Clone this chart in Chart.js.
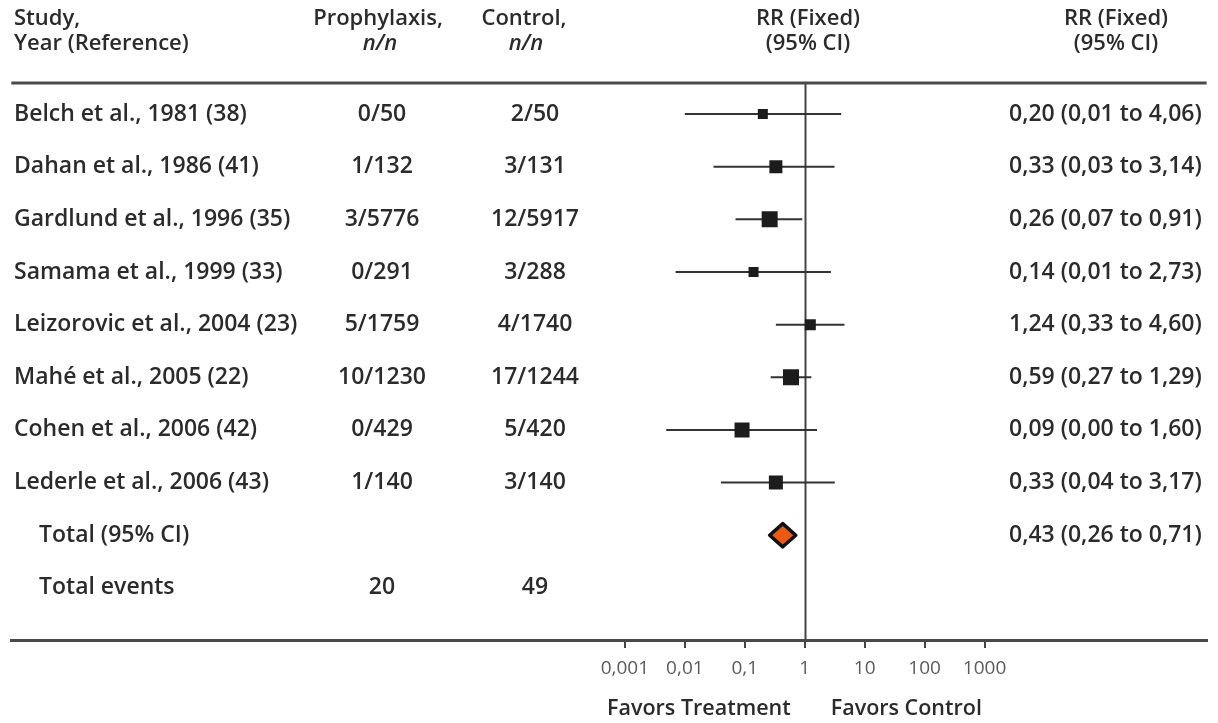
<!DOCTYPE html>
<html>
<head>
<meta charset="utf-8">
<title>Forest plot: RR (Fixed)</title>
<script src="https://cdn.jsdelivr.net/npm/chart.js@4.4.1/dist/chart.umd.min.js"></script>
<style>
  html, body { margin: 0; padding: 0; background: #ffffff; }
  #wrap { width: 1218px; height: 723px; position: relative; }
</style>
</head>
<body>
<div id="wrap"><canvas id="forest"></canvas></div>
<script>
// ---- data ----
const studies = [
  'Belch et al., 1981 (38)',
  'Dahan et al., 1986 (41)',
  'Gardlund et al., 1996 (35)',
  'Samama et al., 1999 (33)',
  'Leizorovic et al., 2004 (23)',
  'Mahé et al., 2005 (22)',
  'Cohen et al., 2006 (42)',
  'Lederle et al., 2006 (43)'
];
const prophylaxis = ['0/50', '1/132', '3/5776', '0/291', '5/1759', '10/1230', '0/429', '1/140'];
const control     = ['2/50', '3/131', '12/5917', '3/288', '4/1740', '17/1244', '5/420', '3/140'];
const rr     = [0.20, 0.33, 0.26, 0.14, 1.24, 0.59, 0.09, 0.33];
const rrLow  = [0.01, 0.03, 0.07, 0.007, 0.33, 0.27, 0.0049, 0.04];
const rrHigh = [4.06, 3.14, 0.91, 2.73, 4.60, 1.29, 1.60, 3.17];
const totalRR = 0.43, totalLow = 0.26, totalHigh = 0.71;
const totalEvents = ['20', '49'];
const tickValues = [0.001, 0.01, 0.1, 1, 10, 100, 1000];
const tickLabels = ['0,001', '0,01', '0,1', '1', '10', '100', '1000'];

// marker side lengths (study weight), px
const markerSide = [10, 13, 16, 10, 11, 16, 15, 14];

const ROW_TOTAL = studies.length;       // "Total (95% CI)"
const ROW_EVENTS = studies.length + 1;  // "Total events"

const fmt = v => v.toFixed(2).replace('.', ',');
const ciText = (m, lo, hi) => `${fmt(m)} (${fmt(lo)} to ${fmt(hi)})`;

// whiskers: one line dataset, broken between studies
const whiskerPts = [];
rr.forEach((_, i) => {
  whiskerPts.push({ x: rrLow[i], y: i }, { x: rrHigh[i], y: i }, { x: null, y: null });
});

const TEXT = '#2b2b2b';
const FONT = '"Open Sans", "DejaVu Sans", sans-serif';

const tablePlugin = {
  id: 'forestTable',
  beforeDatasetsDraw(chart) {
    const { ctx, scales: { x }, chartArea } = chart;
    const x1 = Math.round(x.getPixelForValue(1)) + 0.5;
    ctx.save();
    ctx.strokeStyle = '#444';
    ctx.lineWidth = 2;
    ctx.beginPath();
    ctx.moveTo(x1, chartArea.top);
    ctx.lineTo(x1, chartArea.bottom);
    ctx.stroke();
    ctx.restore();
  },
  afterDatasetsDraw(chart) {
    const { ctx, scales: { x, y } } = chart;
    // pooled estimate diamond
    const cy = y.getPixelForValue(ROW_TOTAL);
    const h = y.getPixelForValue(ROW_TOTAL + 0.22) - cy;
    const xl = x.getPixelForValue(totalLow);
    const xm = x.getPixelForValue(totalRR);
    const xr = x.getPixelForValue(totalHigh);
    ctx.save();
    ctx.beginPath();
    ctx.moveTo(xl, cy);
    ctx.lineTo(xm, cy - h);
    ctx.lineTo(xr, cy);
    ctx.lineTo(xm, cy + h);
    ctx.closePath();
    ctx.fillStyle = '#ec5a12';
    ctx.fill();
    ctx.lineJoin = 'round';
    ctx.lineWidth = 3.5;
    ctx.strokeStyle = '#111';
    ctx.stroke();
    ctx.restore();
  },
  afterDraw(chart) {
    const { ctx, scales: { x, y }, chartArea } = chart;
    const colP = 382, colC = 535, colRR = 1009;
    ctx.save();
    ctx.fillStyle = TEXT;
    ctx.textBaseline = 'middle';

    // header
    ctx.font = `600 22px ${FONT}`;
    ctx.textAlign = 'left';
    ctx.fillText('Study,', 14, 19);
    ctx.fillText('Year (Reference)', 14, 44);
    ctx.textAlign = 'center';
    ctx.fillText('Prophylaxis,', 378, 19);
    ctx.fillText('Control,', 524, 19);
    ctx.fillText('RR (Fixed)', 808, 19);
    ctx.fillText('(95% CI)', 808, 44);
    ctx.fillText('RR (Fixed)', 1116, 19);
    ctx.fillText('(95% CI)', 1116, 44);
    ctx.font = `italic 600 22px ${FONT}`;
    ctx.fillText('n/n', 380, 44);
    ctx.fillText('n/n', 526, 44);

    // header rule
    ctx.strokeStyle = '#4a4a4a';
    ctx.lineWidth = 3;
    ctx.beginPath();
    ctx.moveTo(chartArea.left, chartArea.top);
    ctx.lineTo(chartArea.right, chartArea.top);
    ctx.stroke();

    // study rows
    ctx.font = `600 23px ${FONT}`;
    studies.forEach((s, i) => {
      const py = y.getPixelForValue(i);
      ctx.textAlign = 'left';
      ctx.fillText(s, 14, py);
      ctx.textAlign = 'center';
      ctx.fillText(prophylaxis[i], colP, py);
      ctx.fillText(control[i], colC, py);
      ctx.textAlign = 'left';
      ctx.fillText(ciText(rr[i], rrLow[i], rrHigh[i]), colRR, py);
    });

    // totals
    let py = y.getPixelForValue(ROW_TOTAL);
    ctx.textAlign = 'left';
    ctx.fillText('Total (95% CI)', 39, py);
    ctx.fillText(ciText(totalRR, totalLow, totalHigh), colRR, py);
    py = y.getPixelForValue(ROW_EVENTS);
    ctx.fillText('Total events', 39, py);
    ctx.textAlign = 'center';
    ctx.fillText(totalEvents[0], colP, py);
    ctx.fillText(totalEvents[1], colC, py);

    // direction labels under the axis
    const x1 = x.getPixelForValue(1);
    ctx.font = `600 21.5px ${FONT}`;
    ctx.textAlign = 'right';
    ctx.fillText('Favors Treatment', x1 - 14, 709);
    ctx.textAlign = 'left';
    ctx.fillText('Favors Control', x1 + 26, 709);
    ctx.restore();
  }
};

new Chart(document.getElementById('forest'), {
  type: 'scatter',
  data: {
    datasets: [
      {
        type: 'line',
        data: whiskerPts,
        borderColor: '#333',
        borderWidth: 2,
        pointRadius: 0,
        spanGaps: false,
        fill: false,
        order: 2
      },
      {
        type: 'scatter',
        data: rr.map((v, i) => ({ x: v, y: i })),
        pointStyle: 'rect',
        pointRadius: markerSide.map(s => s / Math.SQRT2),
        backgroundColor: '#1c1c1c',
        borderWidth: 0,
        order: 1
      }
    ]
  },
  options: {
    responsive: true,
    maintainAspectRatio: false,
    animation: false,
    layout: { padding: { top: 83, left: 10, right: 8, bottom: 0 } },
    plugins: { legend: { display: false }, tooltip: { enabled: false } },
    scales: {
      x: {
        type: 'logarithmic',
        min: Math.pow(10, -13.237),
        max: Math.pow(10, 6.706),
        afterBuildTicks: s => { s.ticks = tickValues.map(v => ({ value: v })); },
        afterFit: s => { s.height = 83; },
        ticks: {
          callback: (v, i) => tickLabels[i],
          color: '#5a5a5a',
          font: { family: FONT, size: 19 },
          padding: 9,
          maxRotation: 0,
          autoSkip: false
        },
        grid: { drawOnChartArea: false, drawTicks: true, tickLength: 8, color: '#444', lineWidth: 2 },
        border: { display: true, color: '#4a4a4a', width: 3 }
      },
      y: {
        type: 'linear',
        reverse: true,
        min: -0.59,
        max: 9.99,
        display: false
      }
    }
  },
  plugins: [tablePlugin]
});
</script>
</body>
</html>
